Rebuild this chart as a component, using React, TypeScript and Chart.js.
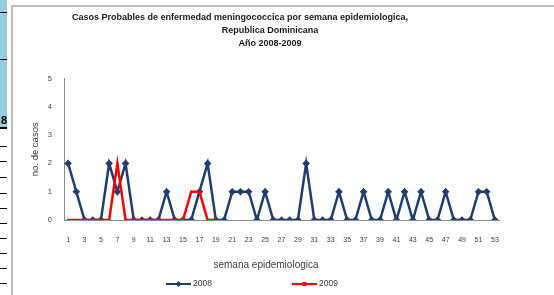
import React, { useEffect, useRef } from "react";
import { Chart, registerables } from "chart.js";

Chart.register(...registerables);

const weeks = [
  1, 2, 3, 4, 5, 6, 7, 8, 9, 10, 11, 12, 13, 14, 15, 16, 17, 18, 19, 20,
  21, 22, 23, 24, 25, 26, 27, 28, 29, 30, 31, 32, 33, 34, 35, 36, 37, 38, 39, 40,
  41, 42, 43, 44, 45, 46, 47, 48, 49, 50, 51, 52, 53,
];

const cases2008 = [
  2, 1, 0, 0, 0, 2, 1, 2, 0, 0, 0, 0, 1, 0, 0, 0, 1, 2, 0, 0,
  1, 1, 1, 0, 1, 0, 0, 0, 0, 2, 0, 0, 0, 1, 0, 0, 1, 0, 0, 1,
  0, 1, 0, 1, 0, 0, 1, 0, 0, 0, 1, 1, 0,
];

const cases2009 = [0, 0, 0, 0, 0, 0, 2, 0, 0, 0, 0, 0, 0, 0, 0, 1, 1, 0, 0];

const seriesLabels = ["2008", "2009"];
const titleLines = [
  "Casos Probables de enfermedad meningococcica por semana epidemiologica,                        ",
  "Republica Dominicana",
  "Año 2008-2009",
];
const xTitle = "semana epidemiologica";
const yTitle = "no. de casos";

const FONT = '"Liberation Sans", Arial, sans-serif';

const bottomTextPlugin = {
  id: "bottomText",
  afterDraw(chart: any) {
    const ctx = chart.ctx as CanvasRenderingContext2D;
    ctx.save();
    ctx.font = `10px ${FONT}`;
    ctx.fillStyle = "#404040";
    ctx.textAlign = "center";
    ctx.textBaseline = "middle";
    ctx.fillText(xTitle, 252, 257);

    const legendX = [152, 278];
    const y = 276;
    chart.data.datasets.forEach((ds: any, i: number) => {
      const x0 = legendX[i];
      ctx.strokeStyle = ds.borderColor;
      ctx.lineWidth = 2;
      ctx.beginPath();
      ctx.moveTo(x0, y);
      ctx.lineTo(x0 + 25, y);
      ctx.stroke();
      const cx = x0 + 12.5;
      ctx.fillStyle = ds.borderColor;
      ctx.beginPath();
      if (ds.pointStyle === "rectRot") {
        ctx.moveTo(cx, y - 3);
        ctx.lineTo(cx + 3, y);
        ctx.lineTo(cx, y + 3);
        ctx.lineTo(cx - 3, y);
        ctx.closePath();
      } else {
        ctx.rect(cx - 2, y - 2, 4, 4);
      }
      ctx.fill();
      ctx.fillStyle = "#404040";
      ctx.textAlign = "left";
      ctx.font = `8.5px ${FONT}`;
      ctx.fillText(ds.label, x0 + 27, y);
    });
    ctx.restore();
  },
};

export default function App() {
  const ref = useRef<HTMLCanvasElement | null>(null);

  useEffect(() => {
    if (!ref.current) return;
    Chart.defaults.font.family = FONT;
    const chart = new Chart(ref.current, {
      type: "line",
      data: {
        labels: weeks,
        datasets: [
          {
            label: seriesLabels[0],
            data: cases2008,
            borderColor: "#1f3d6e",
            backgroundColor: "#1f3d6e",
            borderWidth: 2.5,
            pointStyle: "rectRot",
            pointRadius: 3.8,
            pointBorderWidth: 0,
            tension: 0,
            order: 1,
          },
          {
            label: seriesLabels[1],
            data: cases2009,
            borderColor: "#ff0000",
            backgroundColor: "#ff0000",
            borderWidth: 2.5,
            pointStyle: "rect",
            pointRadius: 1.5,
            pointBorderWidth: 0,
            tension: 0,
            order: 0,
          },
        ],
      },
      options: {
        responsive: false,
        animation: false,
        devicePixelRatio: 1,
        layout: { padding: { left: 0, right: 28, top: 0, bottom: 0 } },
        plugins: {
          legend: { display: false },
          tooltip: { enabled: false },
          title: {
            display: true,
            text: titleLines,
            color: "#1a1a1a",
            font: { size: 9, weight: "bold", lineHeight: 13 / 9 },
            padding: { top: 3.5, bottom: 28 },
          },
        },
        scales: {
          x: {
            type: "category",
            offset: true,
            grid: { display: false, drawTicks: false },
            border: { display: true, color: "#8c8c8c", width: 1 },
            ticks: {
              autoSkip: false,
              maxRotation: 0,
              minRotation: 0,
              padding: 16,
              color: "#404040",
              font: { size: 7 },
              callback: (_v: any, index: number) =>
                index % 2 === 0 ? String(weeks[index]) : "",
            },
            afterFit: (s: any) => {
              s.height = 75;
            },
          },
          y: {
            type: "linear",
            position: "left",
            min: 0,
            max: 5,
            grid: { display: false, drawTicks: false },
            border: { display: true, color: "#8c8c8c", width: 1 },
            ticks: {
              stepSize: 1,
              padding: 12,
              color: "#404040",
              font: { size: 7.5 },
            },
            title: {
              display: true,
              text: yTitle,
              color: "#333333",
              font: { size: 9.5 },
              padding: { top: 15.3, bottom: 0 },
            },
            afterFit: (s: any) => {
              s.width = 50;
            },
          },
          yR: {
            type: "linear",
            position: "right",
            display: true,
            grid: { display: false, drawTicks: false },
            border: { display: false },
            ticks: { display: false },
            afterFit: (s: any) => {
              s.width = 27;
            },
          },
        },
      },
      plugins: [bottomTextPlugin],
    });
    return () => chart.destroy();
  }, []);

  const leftRules = [146, 161, 177, 193, 208, 223, 238, 253, 268, 283];

  return (
    <div
      style={{
        position: "fixed",
        left: 0,
        top: 0,
        width: 554,
        height: 295,
        overflow: "hidden",
        background: "#ffffff",
      }}
    >
      <div
        style={{
          position: "absolute",
          left: 0,
          top: 0,
          width: 7,
          height: 127,
          background: "#92cddc",
        }}
      />
      <div style={{ position: "absolute", left: 0, top: 12, width: 7, height: 1, background: "#000" }} />
      <div style={{ position: "absolute", left: 0, top: 59, width: 7, height: 1, background: "#000" }} />
      <div
        style={{
          position: "absolute",
          left: -4,
          top: 113,
          width: 11,
          height: 14,
          fontFamily: FONT,
          fontWeight: "bold",
          fontSize: 11,
          lineHeight: "14px",
          textAlign: "right",
          color: "#000",
          overflow: "hidden",
        }}
      >
        8
      </div>
      <div style={{ position: "absolute", left: 0, top: 127, width: 7, height: 2, background: "#000" }} />
      {leftRules.map((y) => (
        <div
          key={y}
          style={{ position: "absolute", left: 0, top: y, width: 7, height: 1, background: "#000" }}
        />
      ))}
      <div
        style={{
          position: "absolute",
          left: 11,
          top: 5,
          width: 700,
          height: 400,
          borderLeft: "2px solid #bdbdbd",
          borderTop: "2px solid #bdbdbd",
          background: "#ffffff",
        }}
      />
      <canvas
        ref={ref}
        width={540}
        height={287}
        style={{ position: "absolute", left: 14, top: 8, width: 540, height: 287 }}
      />
    </div>
  );
}
